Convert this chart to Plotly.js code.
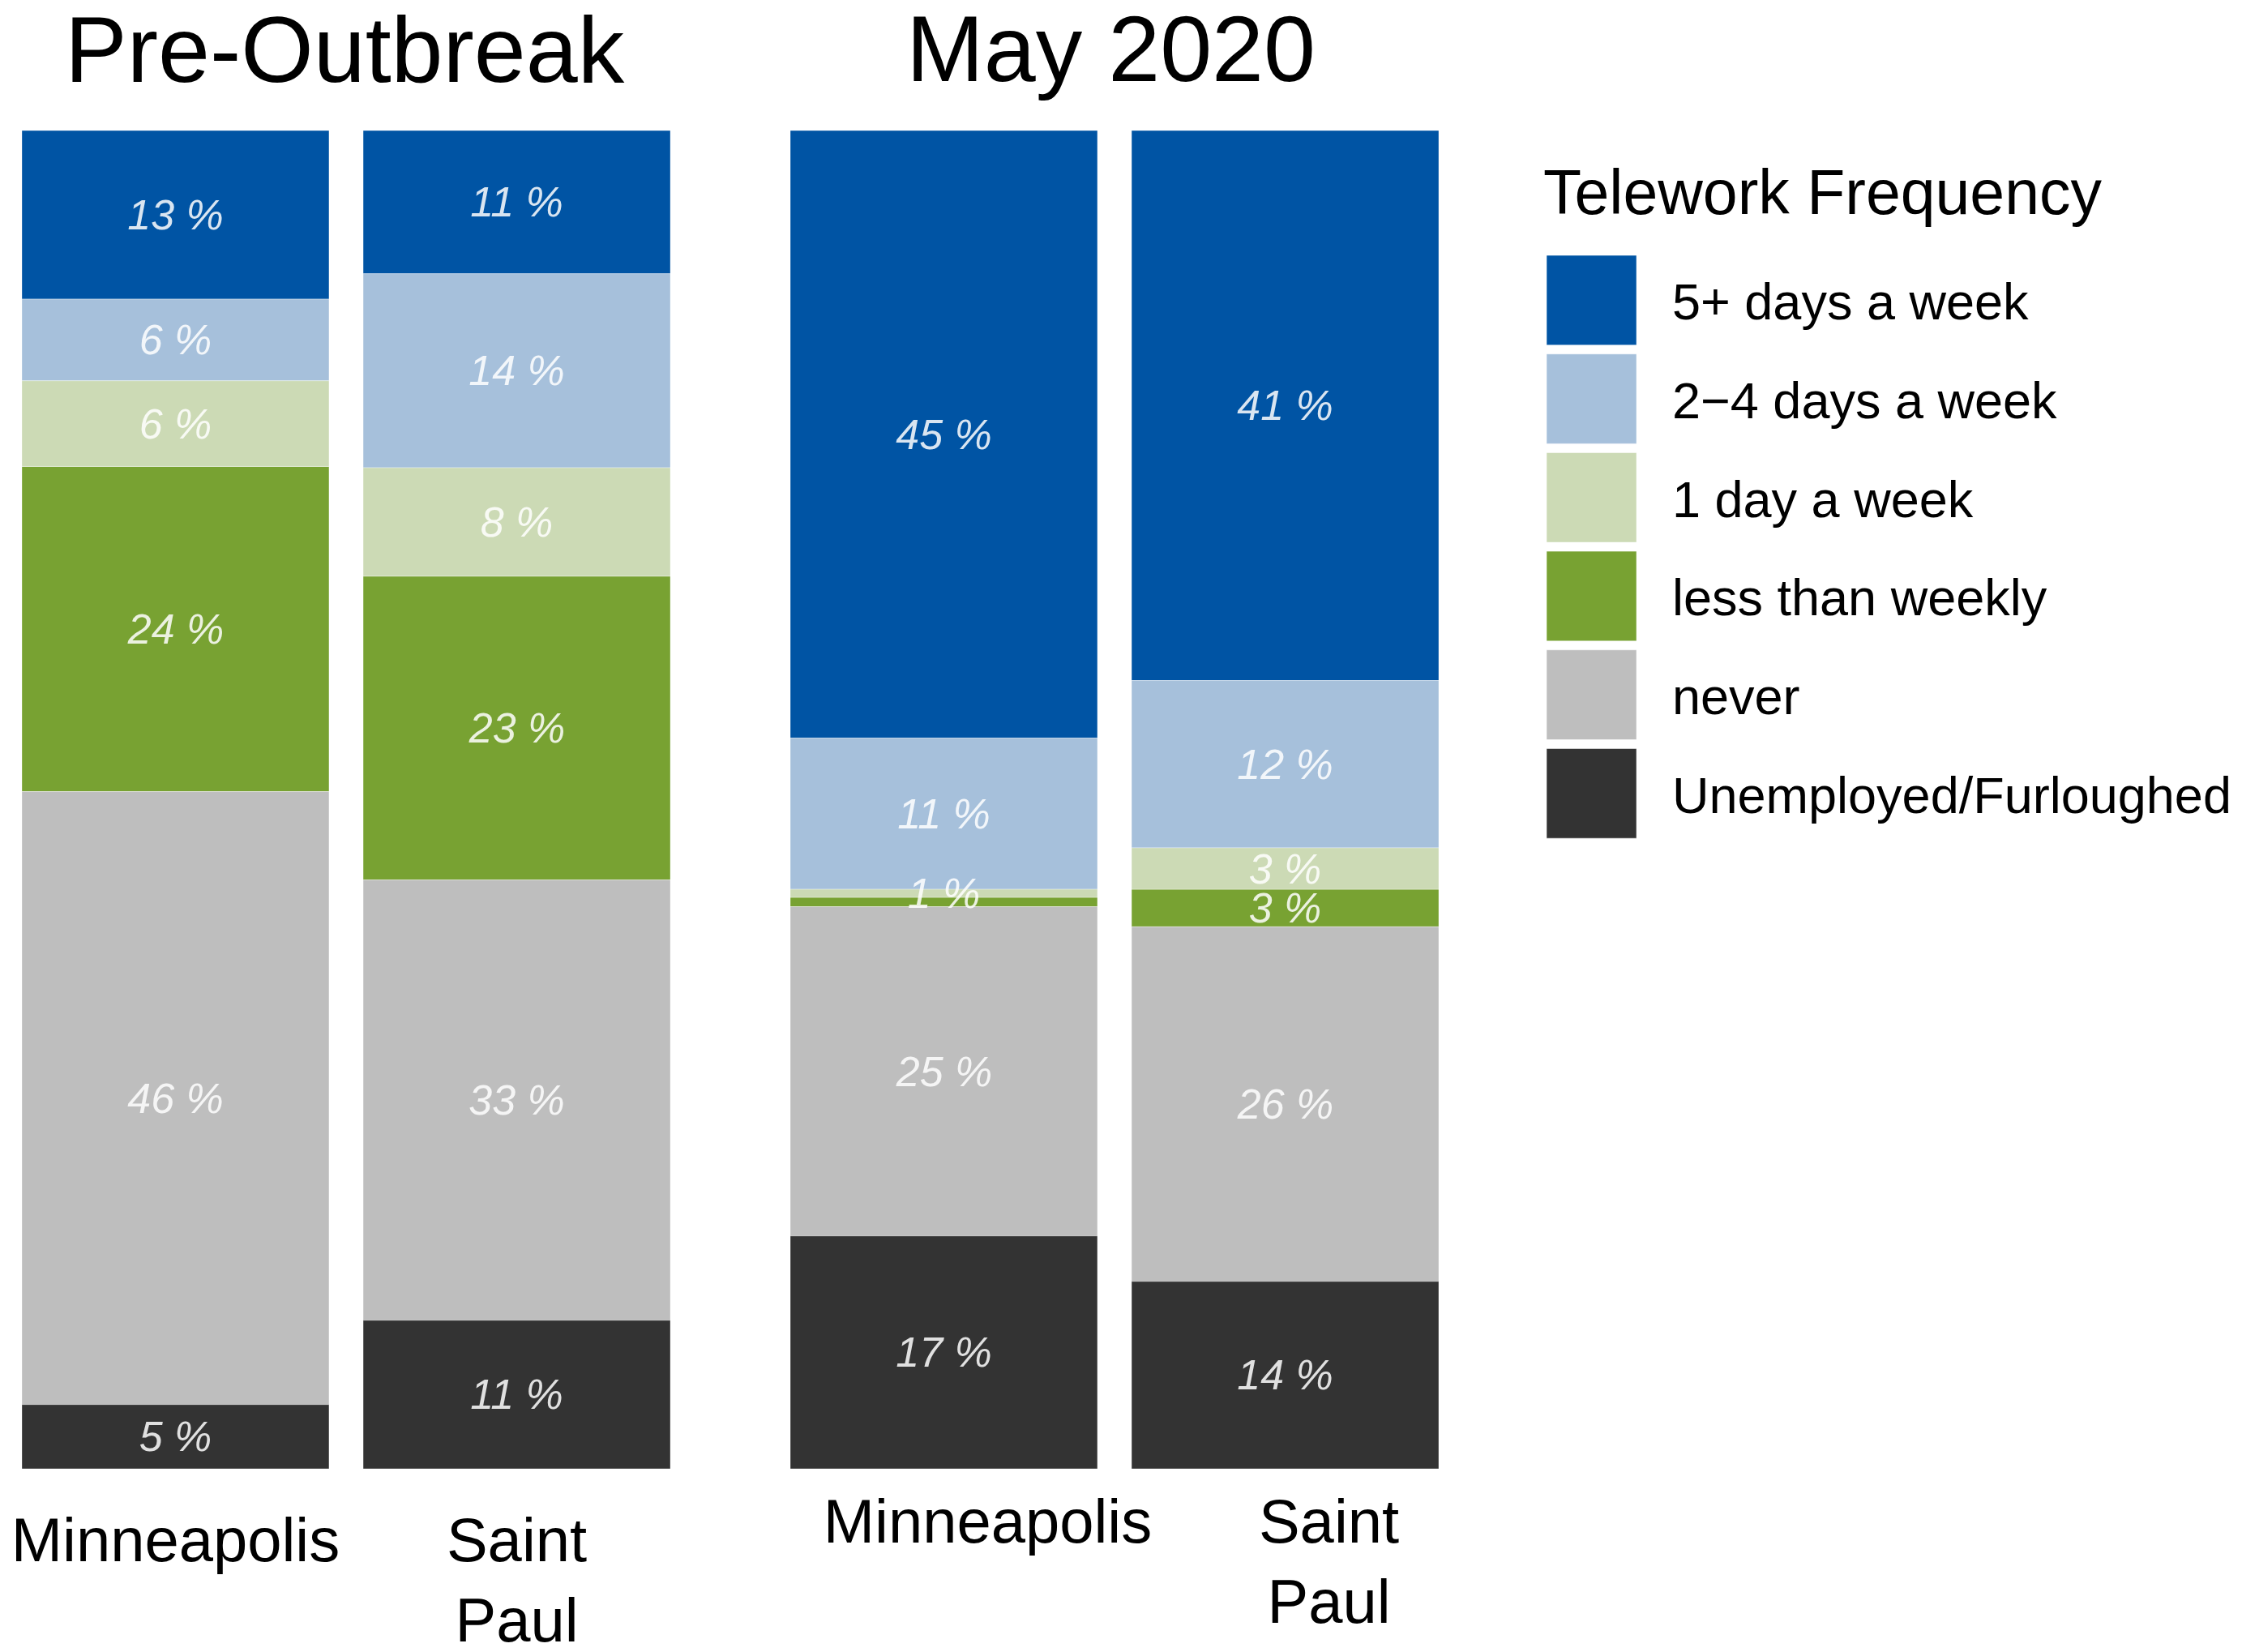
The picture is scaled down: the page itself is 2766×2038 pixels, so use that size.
<!DOCTYPE html>
<html>
<head>
<meta charset="utf-8">
<script src="https://cdn.plot.ly/plotly-3.0.1.min.js"></script>
<style>html,body{margin:0;padding:0;background:#fff;}#chart{width:2766px;height:2038px;}</style>
</head>
<body>
<div id="chart"></div>
<script>
// ---- data ----
var cities = ["Minneapolis", "Saint<br>Paul"];
var panelTitles = ["Pre-Outbreak", "May 2020"];
var legendTitle = "Telework Frequency";
// series listed top-to-bottom as in the legend
var seriesNames = ["5+ days a week", "2\u22124 days a week", "1 day a week", "less than weekly", "never", "Unemployed/Furloughed"];
var seriesColors = ["#0054a4", "#a6c0db", "#ccdab5", "#78a232", "#bebebe", "#333333"];
// percentages [Minneapolis, Saint Paul]
var preFive    = [12.6, 10.7];
var preTwoFour = [6.1, 14.5];
var preOne     = [6.4, 8.1];
var preLess    = [24.3, 22.7];
var preNever   = [45.8, 32.9];
var preUnemp   = [4.8, 11.1];
var mayFive    = [45.4, 41.1];
var mayTwoFour = [11.3, 12.5];
var mayOne     = [0.6, 3.1];
var mayLess    = [0.7, 2.8];
var mayNever   = [24.6, 26.5];
var mayUnemp   = [17.4, 14.0];
// printed segment labels
var preLabels = [["13 %","11 %"],["6 %","14 %"],["6 %","8 %"],["24 %","23 %"],["46 %","33 %"],["5 %","11 %"]];
var mayLabels = [["45 %","41 %"],["11 %","12 %"],["1 %","3 %"],["","3 %"],["25 %","26 %"],["17 %","14 %"]];

var preSeries = [preFive, preTwoFour, preOne, preLess, preNever, preUnemp];
var maySeries = [mayFive, mayTwoFour, mayOne, mayLess, mayNever, mayUnemp];

var W = 2766, H = 2038;
var FONT = "Liberation Sans, Arial, sans-serif";

// drawing order: the "1 day a week" layer last so its label sits on top
var drawOrder = [0, 1, 3, 4, 5, 2];

var traces = [];
function addPanel(series, labels, xa) {
  // stack from the bottom (last series) upward
  var bases = [];
  var run = [0, 0];
  for (var i = series.length - 1; i >= 0; i--) {
    bases[i] = run.slice();
    run = [run[0] + series[i][0], run[1] + series[i][1]];
  }
  drawOrder.forEach(function (i) {
    traces.push({
      type: "bar",
      x: cities,
      y: series[i],
      base: bases[i],
      xaxis: xa,
      yaxis: "y",
      width: 0.9,
      name: seriesNames[i],
      showlegend: false,
      marker: {color: seriesColors[i], line: {width: 1, color: "rgba(255,255,255,0.35)"}},
      text: labels[i],
      textposition: "inside",
      insidetextanchor: "middle",
      textangle: 0,
      constraintext: "none",
      cliponaxis: false,
      textfont: {family: FONT, size: 52, style: "italic", color: "rgba(255,255,255,0.85)"},
      hoverinfo: "skip"
    });
  });
}
addPanel(preSeries, preLabels, "x");
addPanel(maySeries, mayLabels, "x2");

function px(x) { return x / W; }
function py(y) { return 1 - y / H; }

var annotations = [
  {text: panelTitles[0], x: px(425), y: py(61), xref: "paper", yref: "paper", xanchor: "center", yanchor: "middle", showarrow: false, font: {family: FONT, size: 115, color: "#000"}},
  {text: panelTitles[1], x: px(1370), y: py(60), xref: "paper", yref: "paper", xanchor: "center", yanchor: "middle", showarrow: false, font: {family: FONT, size: 115, color: "#000"}},
  {text: legendTitle, x: px(1902), y: py(237), xref: "paper", yref: "paper", xanchor: "left", yanchor: "middle", showarrow: false, font: {family: FONT, size: 77, color: "#000"}}
];
var shapes = [];
var keyTop = 315, keyPitch = 121.7, keySize = 110.7, keyLeft = 1908;
for (var k = 0; k < seriesNames.length; k++) {
  var t = keyTop + k * keyPitch;
  shapes.push({type: "rect", xref: "paper", yref: "paper", x0: px(keyLeft), x1: px(keyLeft + 111), y0: py(t + keySize), y1: py(t), fillcolor: seriesColors[k], line: {width: 1, color: "rgba(255,255,255,0.5)"}});
  annotations.push({text: seriesNames[k], x: px(2061), y: py(t + keySize / 2 + 2), xref: "paper", yref: "paper", xanchor: "left", yanchor: "middle", showarrow: false, font: {family: FONT, size: 63, color: "#000"}});
}

var yDom = [1 - 1812 / H, 1 - 161 / H];
var layout = {
  width: W, height: H,
  margin: {l: 0, r: 0, t: 0, b: 0},
  paper_bgcolor: "#fff", plot_bgcolor: "#fff",
  barmode: "overlay",
  showlegend: false,
  xaxis: {domain: [px(27), px(827)], range: [-0.45, 1.45], type: "category", anchor: "y", showgrid: false, zeroline: false, showline: false, ticks: "", ticklabelstandoff: 37, ticklabelshift: 0, tickfont: {family: FONT, size: 76, color: "#000"}},
  xaxis2: {domain: [px(975), px(1775)], range: [-0.45, 1.45], type: "category", anchor: "y", showgrid: false, zeroline: false, showline: false, ticks: "", ticklabelstandoff: 14, ticklabelshift: 54, tickfont: {family: FONT, size: 76, color: "#000"}},
  yaxis: {domain: yDom, range: [0, 100], visible: false, showgrid: false, zeroline: false},
  annotations: annotations,
  shapes: shapes
};
Plotly.newPlot("chart", traces, layout, {staticPlot: true, displayModeBar: false});
</script>
</body>
</html>
